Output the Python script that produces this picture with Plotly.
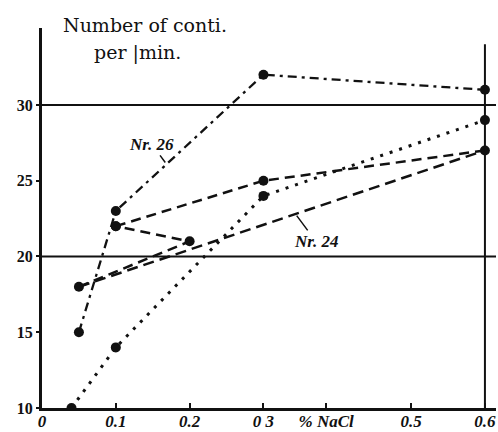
import plotly.graph_objects as go

# ---- data ----
nr26_x = [0.05, 0.1, 0.3, 0.6]
nr26_y = [15, 23, 32, 31]

upper_dash_x = [0.1, 0.3, 0.6]
upper_dash_y = [22, 25, 27]

short_dash_x = [0.05, 0.2, 0.1]
short_dash_y = [18, 21, 22]

nr24_x = [0.05, 0.6]
nr24_y = [18, 27]

dotted_x = [0.04, 0.1, 0.3, 0.6]
dotted_y = [10, 14, 24, 29]

grid_y = [20, 30]
grid_x = [0, 0.615]
right_edge_x = [0.6, 0.6]
right_edge_y = [10, 34]

x_tickvals = [0, 0.1, 0.2, 0.3, 0.385, 0.5, 0.6]
x_ticktext = ["0", "0.1", "0.2", "0 3", "% NaCl", "0.5", "0.6"]
y_tickvals = [10, 15, 20, 25, 30]
y_ticktext = ["10", "15", "20", "25", "30"]

INK = "#111111"
fig = go.Figure()

# frame-like reference lines
for gy in grid_y:
    fig.add_trace(go.Scatter(x=grid_x, y=[gy, gy], mode="lines",
                             line=dict(color=INK, width=2), hoverinfo="skip", showlegend=False))
fig.add_trace(go.Scatter(x=right_edge_x, y=right_edge_y, mode="lines",
                         line=dict(color=INK, width=2), hoverinfo="skip", showlegend=False))

# series
fig.add_trace(go.Scatter(x=nr26_x, y=nr26_y, mode="lines+markers",
                         line=dict(color=INK, width=2.3, dash="9px,5px,3px,5px"),
                         marker=dict(color=INK, size=10), showlegend=False))
fig.add_trace(go.Scatter(x=upper_dash_x, y=upper_dash_y, mode="lines+markers",
                         line=dict(color=INK, width=2.5, dash="10px,6px"),
                         marker=dict(color=INK, size=10), showlegend=False))
fig.add_trace(go.Scatter(x=short_dash_x, y=short_dash_y, mode="lines+markers",
                         line=dict(color=INK, width=2.5, dash="10px,6px"),
                         marker=dict(color=INK, size=10), showlegend=False))
fig.add_trace(go.Scatter(x=nr24_x, y=nr24_y, mode="lines",
                         line=dict(color=INK, width=2.5, dash="11px,6px"),
                         showlegend=False))
fig.add_trace(go.Scatter(x=dotted_x, y=dotted_y, mode="lines+markers",
                         line=dict(color=INK, width=3, dash="3px,7px"),
                         marker=dict(color=INK, size=10), showlegend=False))

# labels
serif = "DejaVu Serif"
fig.add_annotation(x=0.139, xref="x", y=1.008, yref="paper", text="Number of conti.",
                   showarrow=False, font=dict(family=serif, size=19, color=INK),
                   xanchor="center", yanchor="middle")
fig.add_annotation(x=0.129, xref="x", y=0.935, yref="paper", text="per |min.",
                   showarrow=False, font=dict(family=serif, size=19, color=INK),
                   xanchor="center", yanchor="middle")
fig.add_annotation(x=0.167, y=26.2, ax=0.149, ay=27.4, axref="x", ayref="y",
                   text="<b><i>Nr. 26</i></b>", showarrow=True, arrowhead=0, arrowwidth=1.5,
                   arrowcolor=INK, standoff=0,
                   font=dict(family="Liberation Serif", size=17, color=INK))
fig.add_annotation(x=0.345, y=22.7, ax=0.371, ay=21.0, axref="x", ayref="y",
                   text="<b><i>Nr. 24</i></b>", showarrow=True, arrowhead=0, arrowwidth=1.5,
                   arrowcolor=INK, standoff=0,
                   font=dict(family="Liberation Serif", size=17, color=INK))

fig.update_xaxes(range=[0, 0.615], tickvals=x_tickvals, ticktext=x_ticktext,
                 showgrid=False, zeroline=False, showline=True, linecolor=INK, linewidth=3,
                 ticks="inside", ticklen=5, tickwidth=1.5, tickcolor=INK,
                 ticklabelstandoff=-4,
                 tickfont=dict(family="Liberation Serif", size=17, color=INK,
                               style="italic", weight="bold"))
fig.update_yaxes(range=[10, 35.08], tickvals=y_tickvals, ticktext=y_ticktext,
                 showgrid=False, zeroline=False, showline=True, linecolor=INK, linewidth=3,
                 ticks="outside", ticklen=3, tickwidth=1.5, tickcolor=INK,
                 tickfont=dict(family="Liberation Serif", size=16, color=INK, weight="bold"))

fig.update_layout(width=498, height=432, margin=dict(l=42, r=2, t=28, b=24, autoexpand=False),
                  paper_bgcolor="white", plot_bgcolor="white")

fig.write_html("out.html", config={"displayModeBar": False},
               post_script="document.body.style.margin='0';")
